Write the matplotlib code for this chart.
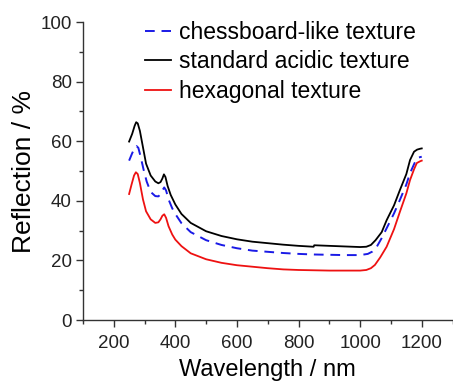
import matplotlib
matplotlib.use('Agg')
import matplotlib.pyplot as plt
from matplotlib.ticker import MultipleLocator

plt.rcParams['font.family'] = ['Liberation Sans', 'DejaVu Sans']

# wavelength / nm and reflection / %
wl_black = [250, 260, 268, 273, 278, 285, 295, 305, 320, 335, 345, 352, 358, 363, 368, 375,
            385, 400, 420, 450, 500, 550, 600, 650, 700, 750, 800, 849, 851, 900, 950,
            1000, 1020, 1035, 1050, 1070, 1086, 1110, 1129, 1150, 1162, 1175, 1185, 1195, 1200]
r_black = [59.9, 62.5, 65.2, 66.4, 66.0, 63.5, 58.0, 52.5, 48.5, 46.5, 45.9, 46.3, 47.5, 48.9, 48.0, 45.0,
           42.0, 38.8, 35.6, 32.6, 29.8, 28.2, 27.1, 26.3, 25.8, 25.3, 24.9, 24.6, 25.1, 24.9, 24.7,
           24.5, 24.6, 25.2, 26.8, 29.5, 33.5, 38.5, 43.6, 49.0, 53.7, 56.5, 57.2, 57.5, 57.6]

wl_blue = [250, 260, 268, 274, 280, 287, 297, 307, 320, 335, 345, 352, 358, 364, 370, 378,
           390, 400, 420, 450, 500, 550, 600, 650, 700, 750, 800, 850, 900, 950,
           1000, 1025, 1040, 1054, 1070, 1086, 1110, 1129, 1150, 1162, 1175, 1184, 1195, 1200]
r_blue = [53.5, 56.0, 57.8, 58.4, 57.8, 55.0, 50.5, 46.5, 43.0, 41.6, 41.5, 42.2, 43.5, 44.5, 43.5, 40.5,
          37.5, 35.6, 32.5, 29.5, 26.8, 25.2, 24.1, 23.3, 22.9, 22.5, 22.2, 22.0, 21.9, 21.8,
          21.8, 22.2, 23.0, 24.6, 27.5, 30.8, 35.8, 40.3, 45.5, 49.3, 52.3, 54.3, 54.7, 54.8]

wl_red = [250, 258, 266, 272, 278, 285, 295, 305, 320, 335, 345, 352, 358, 364, 370, 378,
          390, 400, 420, 450, 500, 550, 600, 650, 700, 750, 800, 850, 900, 950,
          1000, 1020, 1035, 1048, 1065, 1086, 1110, 1129, 1150, 1162, 1175, 1184, 1195, 1200]
r_red = [42.3, 45.5, 48.5, 49.6, 49.0, 46.0, 40.5, 36.5, 33.8, 32.6, 32.8, 33.8, 35.0, 35.5, 34.3, 31.5,
         28.7, 27.0, 24.8, 22.4, 20.4, 19.2, 18.4, 17.9, 17.4, 17.0, 16.8, 16.7, 16.6, 16.6,
         16.6, 16.8, 17.4, 18.5, 21.0, 24.6, 30.5, 36.3, 42.5, 47.0, 50.6, 52.7, 53.3, 53.5]

fig = plt.figure(figsize=(4.53, 3.81), dpi=100)
ax = fig.add_axes([0.183, 0.160, 0.816, 0.782])

ax.plot(wl_blue, r_blue, color='#1a1ae6', lw=1.4, dashes=(5, 3.5), label='chessboard-like texture')
ax.plot(wl_black, r_black, color='black', lw=1.3, label='standard acidic texture')
ax.plot(wl_red, r_red, color='#ee1111', lw=1.3, label='hexagonal texture')

ax.set_xlim(100, 1300)
ax.set_ylim(0, 100)
ax.xaxis.set_major_locator(MultipleLocator(200))
ax.xaxis.set_minor_locator(MultipleLocator(100))
ax.yaxis.set_major_locator(MultipleLocator(20))
ax.yaxis.set_minor_locator(MultipleLocator(10))
ax.set_xticks([200, 400, 600, 800, 1000, 1200])

for s in ['top', 'right']:
    ax.spines[s].set_visible(False)
for s in ['left', 'bottom']:
    ax.spines[s].set_color('#333333')
    ax.spines[s].set_linewidth(1.0)
ax.tick_params(which='major', direction='out', length=5, width=1.0, color='#333333',
               labelsize=13.5, labelcolor='#222222', pad=3)
ax.tick_params(axis='x', which='major', pad=6)
ax.tick_params(which='minor', direction='out', length=3, width=1.0, color='#333333')

ax.set_xlabel('Wavelength / nm', fontsize=17, labelpad=5)
ax.set_ylabel('Reflection / %', fontsize=19, labelpad=3)

ax.legend(loc='upper left', bbox_to_anchor=(0.143, 1.035), frameon=False, fontsize=16.5,
          handlelength=1.15, handletextpad=0.35, labelspacing=0.28, borderaxespad=0)

fig.savefig('out.png', dpi=100)
